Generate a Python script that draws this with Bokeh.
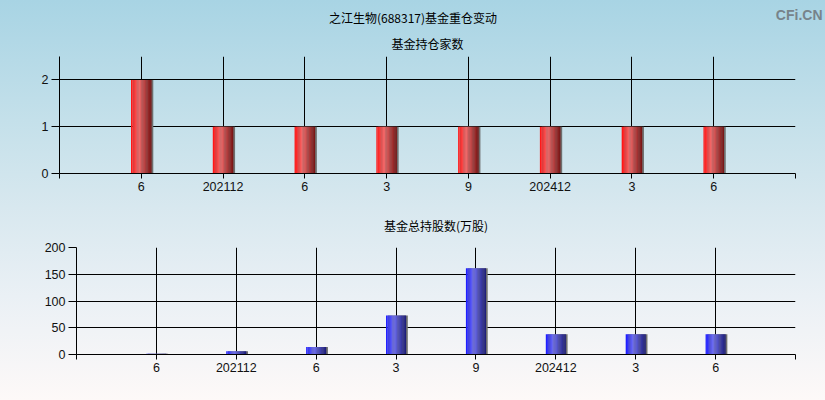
import numpy as np
from bokeh.plotting import figure
from bokeh.layouts import column, row
from bokeh.models import Range1d, FixedTicker, Title, Label
from bokeh.embed import file_html
from bokeh.resources import INLINE

# Report periods (x-axis tick labels) and the two series
periods = ["6", "202112", "6", "3", "9", "202412", "3", "6"]
fund_counts = [2, 1, 1, 1, 1, 1, 1, 1]             # 基金持仓家数
fund_shares = [1.5, 6, 14, 73, 161, 38, 38, 38]    # 基金总持股数(万股)

LABEL_FONT = "Liberation Sans"
CJK_FONT = "Noto Sans CJK SC"
BAR_W = 0.25
N_SLICES = 16
W = 825


def lerp_color(stops, t):
    """Piecewise-linear colour between (pos, (r,g,b)) stops."""
    for (p0, c0), (p1, c1) in zip(stops[:-1], stops[1:]):
        if p0 <= t <= p1:
            f = (t - p0) / (p1 - p0) if p1 > p0 else 0
            rgb = [int(round(a + (b - a) * f)) for a, b in zip(c0, c1)]
            return "#%02x%02x%02x" % tuple(rgb)
    return "#%02x%02x%02x" % stops[-1][1]


def shaded_bars(p, xs, tops, stops):
    """Cylinder-like bars: a grey drop shadow plus vertical colour slices."""
    p.vbar(x=[x + 0.022 for x in xs], top=tops, width=BAR_W, bottom=0,
           fill_color="#6e6e6e", line_color=None)
    sw = BAR_W / N_SLICES
    for k in range(N_SLICES):
        t = (k + 0.5) / N_SLICES
        off = -BAR_W / 2 + (k + 0.5) * sw
        p.vbar(x=[x + off for x in xs], top=tops, width=sw * 1.08, bottom=0,
               fill_color=lerp_color(stops, t), line_color=None)


def style_panel(p, yticks, xtick_pos):
    p.background_fill_color = None
    p.border_fill_color = None
    p.outline_line_color = None
    p.xaxis.ticker = FixedTicker(ticks=xtick_pos)
    overrides = {pos: "" for pos in xtick_pos}
    for i, lab in enumerate(periods):
        overrides[i + 1] = lab
    p.xaxis.major_label_overrides = overrides
    p.yaxis.ticker = FixedTicker(ticks=yticks)
    for ax in (p.xaxis, p.yaxis):
        ax.axis_line_color = "black"
        ax.major_tick_line_color = "black"
        ax.minor_tick_line_color = None
        ax.major_tick_in = 0
        ax.major_label_text_font = LABEL_FONT
        ax.major_label_text_font_size = "12.5px"
        ax.major_label_text_color = "#111111"
    p.xaxis.major_tick_out = 5
    p.xaxis.major_label_standoff = 3
    p.yaxis.major_tick_out = 8
    p.yaxis.major_label_standoff = 3
    p.xgrid.ticker = FixedTicker(ticks=xtick_pos)
    p.ygrid.ticker = FixedTicker(ticks=yticks)
    for g in (p.xgrid, p.ygrid):
        g.grid_line_color = "black"
        g.grid_line_alpha = 1.0
        g.grid_line_width = 1


def cjk_title(text, standoff):
    return Title(text=text, align="center", text_font=CJK_FONT,
                 text_font_size="12px", text_font_style="normal",
                 text_color="black", standoff=standoff)


n = len(periods)
xs = list(range(1, n + 1))
xtick_pos = list(range(0, n + 2))

red_stops = [(0.0, (255, 16, 16)), (0.38, (242, 108, 108)), (1.0, (118, 18, 18))]
blue_stops = [(0.0, (24, 24, 255)), (0.38, (112, 112, 240)), (1.0, (26, 26, 120))]

# --- header strip: chart title and site mark ---
HEAD_H = 28
head = figure(width=W, height=HEAD_H, output_backend="svg", toolbar_location=None,
              x_range=Range1d(0, 1), y_range=Range1d(0, 1),
              min_border_left=0, min_border_right=0, min_border_top=0, min_border_bottom=0)
head.axis.visible = False
head.grid.visible = False
head.outline_line_color = None
head.background_fill_color = None
head.border_fill_color = None
head.add_layout(Label(x=W / 2, y=HEAD_H - 17, x_units="screen", y_units="screen",
                      text="之江生物(688317)基金重仓变动", text_align="center",
                      text_baseline="middle", text_font=CJK_FONT, text_font_size="12px",
                      text_color="black"))
head.add_layout(Label(x=W - 3, y=HEAD_H - 14.5, x_units="screen", y_units="screen",
                      text="CFi.CN", text_align="right", text_baseline="alphabetic",
                      text_font="Liberation Sans", text_font_size="14px",
                      text_font_style="bold", text_color="#77838a"))

# --- upper panel: number of funds holding ---
p1 = figure(width=W, height=200 - HEAD_H, output_backend="svg", toolbar_location=None,
            x_range=Range1d(0, n + 1), y_range=Range1d(0, 2.5),
            min_border_left=59, min_border_right=30,
            min_border_top=56 - HEAD_H, min_border_bottom=27)
p1.title = None
p1.add_layout(cjk_title("基金持仓家数", 9), "above")
style_panel(p1, [0, 1, 2], xtick_pos)
shaded_bars(p1, xs, fund_counts, red_stops)

# --- lower panel: total shares held (10k shares) ---
p2 = figure(width=W, height=200, output_backend="svg", toolbar_location=None,
            x_range=Range1d(0, n + 1), y_range=Range1d(0, 200),
            min_border_left=76, min_border_right=30,
            min_border_top=47, min_border_bottom=46)
p2.title = None
p2.add_layout(cjk_title("基金总持股数(万股)", 28), "above")
style_panel(p2, [0, 50, 100, 150, 200], xtick_pos)
shaded_bars(p2, xs, fund_shares, blue_stops)

layout = column(row(head), row(p1), row(p2), width=W, height=400, spacing=0,
                styles={"background": "linear-gradient(to bottom, #a8d4e4 0%, #c4e0ea 30%, "
                                       "#d8e8ef 52%, #eaf0f5 74%, #fdf9f8 100%)"})

open("out.html", "w").write(file_html(layout, INLINE))
